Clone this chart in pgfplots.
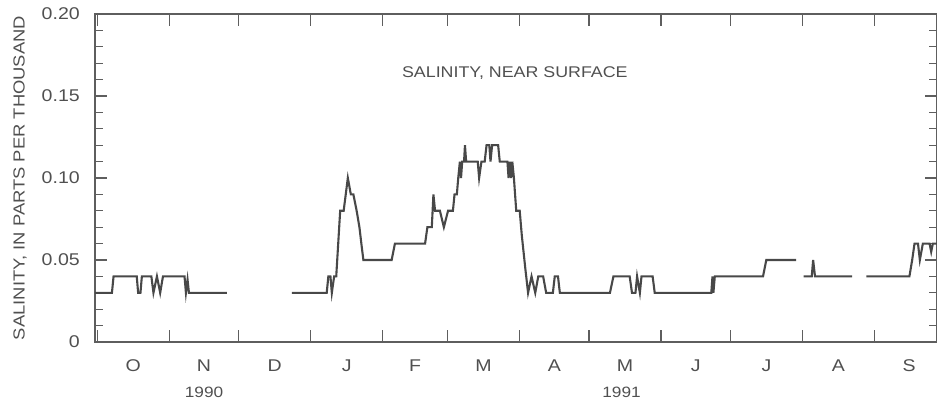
\documentclass[border=0pt]{standalone}
\usepackage{fontspec}
\setmainfont{Liberation Sans}[FakeStretch=1.15]
\usepackage{pgfplots}
\pgfplotsset{compat=1.18}
\definecolor{axgray}{HTML}{5E5E5E}
\definecolor{linegray}{HTML}{484848}
\definecolor{txtgray}{HTML}{505050}
\begin{document}
\begin{tikzpicture}[font=\fontsize{15.5bp}{18bp}\selectfont]
\begin{axis}[
  at={(0,0)}, anchor=south west,
  width=842bp, height=328bp, scale only axis,
  xmin=-1, xmax=362, ymin=0, ymax=0.2,
  axis line style={axgray, line width=1.6bp},
  every tick/.style={axgray, line width=1.3bp},
  major tick length=12bp, minor tick length=8bp,
  tick align=inside,
  xtick={0,31,61,92,123,151,182,212,243,273,304,335},
  xticklabels={},
  extra x ticks={15.5,46,76.5,107.5,137,166.5,197,227.5,258,288.5,319.5,350},
  extra x tick labels={O,N,D,J,F,M,A,M,J,J,A,S},
  extra x tick style={major tick length=0bp, xticklabel style={anchor=center, yshift=-24bp, inner sep=0pt, text=txtgray, font=\fontsize{17bp}{19bp}\selectfont}},
  ytick={0,0.05,0.10,0.15,0.20},
  yticklabels={0,0.05,0.10,0.15,0.20},
  minor ytick={0.01,0.02,0.03,0.04,0.06,0.07,0.08,0.09,0.11,0.12,0.13,0.14,0.16,0.17,0.18,0.19},
  yticklabel style={anchor=east, inner sep=0pt, xshift=-15bp, text=txtgray, font=\fontsize{17bp}{19bp}\selectfont},
  ylabel={SALINITY, IN PARTS PER THOUSAND},
  every axis y label/.style={at={(axis description cs:-0.089,0.5)}, anchor=center, rotate=90, text=txtgray, font=\fontsize{16bp}{18bp}\selectfont},
  clip mode=individual,
]
% segment 1
\addplot[linegray, line width=2.1bp] coordinates {
(-1,0.03) (6.3,0.03) (7,0.04) (17,0.04) (17.6,0.03) (18.6,0.03) (19.2,0.04) (23.3,0.04)
(24.2,0.03) (25.7,0.04) (27.1,0.03) (28.3,0.04) (37.6,0.04) (38.2,0.03) (38.9,0.038)
(39.5,0.03) (55.8,0.03)
};
% segment 2
\addplot[linegray, line width=2.1bp] coordinates {
(83.9,0.03) (98.9,0.03) (99.6,0.04) (100.5,0.04) (101.1,0.03) (102.1,0.04) (103.0,0.04)
(104.7,0.08) (106.2,0.08) (108,0.10) (109.3,0.09) (110.4,0.09) (111.8,0.08) (113,0.07)
(114,0.058) (114.7,0.05) (126.9,0.05) (128.3,0.06) (141.3,0.06) (142.3,0.07) (144.2,0.07)
(144.9,0.09) (145.6,0.08) (147.7,0.08) (149.4,0.07) (151.2,0.08) (153.3,0.08) (154,0.09)
(155,0.09) (155.6,0.10) (156.3,0.11) (156.8,0.10) (157.3,0.11) (158.1,0.11) (158.5,0.12)
(159.0,0.11) (164,0.11) (164.6,0.10) (165.6,0.11) (167,0.11) (167.8,0.12) (169,0.12)
(169.5,0.11) (170.2,0.12) (172.8,0.12) (173.5,0.11) (176.8,0.11) (177.3,0.10) (177.8,0.11)
(178.4,0.10) (178.9,0.11) (179.6,0.10) (180.1,0.09) (180.6,0.08) (182.1,0.08) (183,0.065)
(184.5,0.045) (185.7,0.03) (187.2,0.04) (188.8,0.03) (190.1,0.04) (192.2,0.04) (193.5,0.03)
(196.4,0.03) (197.2,0.04) (198.6,0.04) (199.4,0.03) (221,0.03) (222.5,0.04) (229.5,0.04)
(230.5,0.03) (232,0.03) (232.7,0.04) (233.9,0.03) (234.6,0.04) (239.4,0.04) (240.3,0.03)
(264.7,0.03) (265.2,0.04) (265.6,0.03) (266.2,0.04) (287,0.04) (288.4,0.05) (301.3,0.05)
};
% segment 3
\addplot[linegray, line width=2.1bp] coordinates {
(304.5,0.04) (308,0.04) (308.6,0.05) (309.4,0.04) (325.4,0.04)
};
% segment 4
\addplot[linegray, line width=2.1bp] coordinates {
(331.5,0.04) (350.1,0.04) (351.3,0.05) (352.3,0.06) (353.8,0.06) (354.6,0.05) (355.9,0.06)
(358.8,0.06) (359.5,0.055) (360.2,0.06) (362,0.06)
};
\node[text=txtgray, anchor=center] at (axis cs:180,0.164) {SALINITY, NEAR SURFACE};
\node[text=txtgray, anchor=center, inner sep=0pt, font=\fontsize{15bp}{17bp}\selectfont] at ([yshift=-50bp]axis cs:46,0) {1990};
\node[text=txtgray, anchor=center, inner sep=0pt, font=\fontsize{15bp}{17bp}\selectfont] at ([yshift=-50bp]axis cs:226,0) {1991};
\end{axis}
\pgfresetboundingbox
\path[use as bounding box] (-95bp,-60bp) rectangle (842bp,342bp);
\end{tikzpicture}
\end{document}
